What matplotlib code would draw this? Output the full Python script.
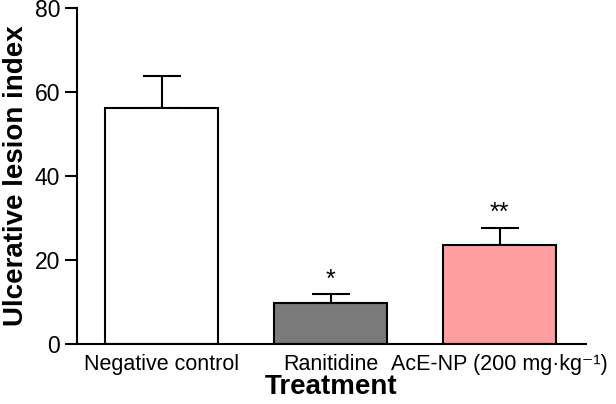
import matplotlib
matplotlib.use("Agg")
import matplotlib.pyplot as plt
import numpy as np

plt.rcParams["font.family"] = ["Liberation Sans", "DejaVu Sans"]

treatments = ["Negative control", "Ranitidine", "AcE-NP (200 mg·kg⁻¹)"]
means = [56.3, 9.8, 23.6]
errors = [7.5, 2.1, 4.1]
marks = ["", "*", "**"]
colors = ["#ffffff", "#7a7a7a", "#ff9e9e"]

fig = plt.figure(figsize=(6.16, 4.04), dpi=100)
ax = fig.add_axes([0.125, 0.1485, 0.826, 0.8315])

xs = np.arange(len(treatments))
ax.bar(xs, means, width=0.67, color=colors, edgecolor="black", linewidth=1.5, zorder=2)
ax.errorbar(xs, means, yerr=[np.zeros(len(errors)), errors], fmt="none",
            ecolor="black", elinewidth=1.5, capsize=14, capthick=1.5, zorder=1)

for x, m, e, s in zip(xs, means, errors, marks):
    if s:
        ax.text(x, m + e + 0.6, s, ha="center", va="bottom", fontsize=18)

ax.set_xlim(-0.5, 2.51)
ax.set_ylim(0, 80)
ax.set_yticks([0, 20, 40, 60, 80])
ax.set_xticks(xs)
ax.set_xticklabels(treatments, fontsize=15.5)
ax.tick_params(axis="x", length=0, pad=7)
ax.tick_params(axis="y", labelsize=16.5, width=1.5, length=9, direction="out", pad=3)
for side in ["top", "right"]:
    ax.spines[side].set_visible(False)
for side in ["left", "bottom"]:
    ax.spines[side].set_linewidth(1.5)

ax.set_ylabel("Ulcerative lesion index", fontsize=20, fontweight="bold", labelpad=4)
ax.set_xlabel("Treatment", fontsize=20, fontweight="bold", labelpad=-0.5)

fig.savefig("out.png", dpi=100)
